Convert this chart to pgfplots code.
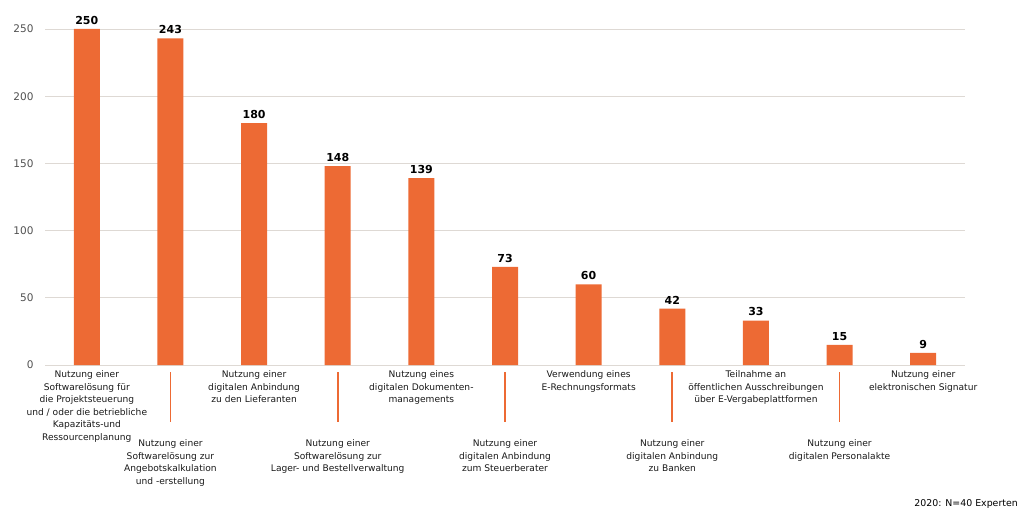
\documentclass[border=0pt]{standalone}
\usepackage{pgfplots}
\pgfplotsset{compat=1.18}
\usepackage{fontspec}
\setmainfont{DejaVu Sans}
\definecolor{barc}{RGB}{237,106,52}
\definecolor{gridc}{RGB}{222,217,212}
\definecolor{tickc}{RGB}{80,80,80}
\begin{document}
\begin{tikzpicture}[x=1pt,y=1pt]
\path[use as bounding box] (0,0) rectangle (1024,512);
\begin{axis}[
  at={(45pt,147pt)}, anchor=south west,
  scale only axis, width=920pt, height=336pt,
  xmin=-0.5, xmax=10.5, ymin=0, ymax=250,
  axis lines*=left,
  y axis line style={draw=none},
  x axis line style={draw=gridc, line width=1pt},
  major tick length=0pt,
  ytick={0,50,...,250},
  ymajorgrids, grid style={draw=gridc, line width=0.8pt},
  /pgf/number format/assume math mode=true,
  yticklabel style={font=\fontsize{10.5}{12}\selectfont, text=tickc, xshift=-8pt},
  xtick={0,2,4,6,8,10},
  xticklabels={
    {Nutzung einer\\Softwarelösung für\\die Projektsteuerung\\und / oder die betriebliche\\Kapazitäts-und\\Ressourcenplanung},
    {Nutzung einer\\digitalen Anbindung\\zu den Lieferanten},
    {Nutzung eines\\digitalen Dokumenten-\\managements},
    {Verwendung eines\\E-Rechnungsformats},
    {Teilnahme an\\öffentlichen Ausschreibungen\\über E-Vergabeplattformen},
    {Nutzung einer\\elektronischen Signatur}},
  xticklabel style={align=center, anchor=north, font=\fontsize{9.1}{12.6}\selectfont, text=black!90, yshift=-2pt},
  extra x ticks={1,3,5,7,9},
  extra x tick labels={
    {Nutzung einer\\Softwarelösung zur\\Angebotskalkulation\\und -erstellung},
    {Nutzung einer\\Softwarelösung zur\\Lager- und Bestellverwaltung},
    {Nutzung einer\\digitalen Anbindung\\zum Steuerberater},
    {Nutzung einer\\digitalen Anbindung\\zu Banken},
    {Nutzung einer\\digitalen Personalakte}},
  extra x tick style={xticklabel style={yshift=-69pt}},
  clip=false,
]
\addplot[ybar, bar width=26pt, fill=barc, draw=none,
  nodes near coords,
  nodes near coords style={font=\bfseries\fontsize{11}{13}\selectfont, text=black, yshift=1pt}]
  coordinates {(0,250) (1,243) (2,180) (3,148) (4,139) (5,73) (6,60) (7,42) (8,33) (9,15) (10,9)};
\pgfplotsinvokeforeach{1,3,5,7,9}{
  \draw[barc, line width=1.8pt] ([yshift=-7pt]axis cs:#1,0) -- ([yshift=-57pt]axis cs:#1,0);
}
\end{axis}
\node[anchor=south east, font=\fontsize{9.4}{11}\selectfont, inner sep=0pt] at (1018,3) {2020: N=40 Experten};
\end{tikzpicture}
\end{document}
